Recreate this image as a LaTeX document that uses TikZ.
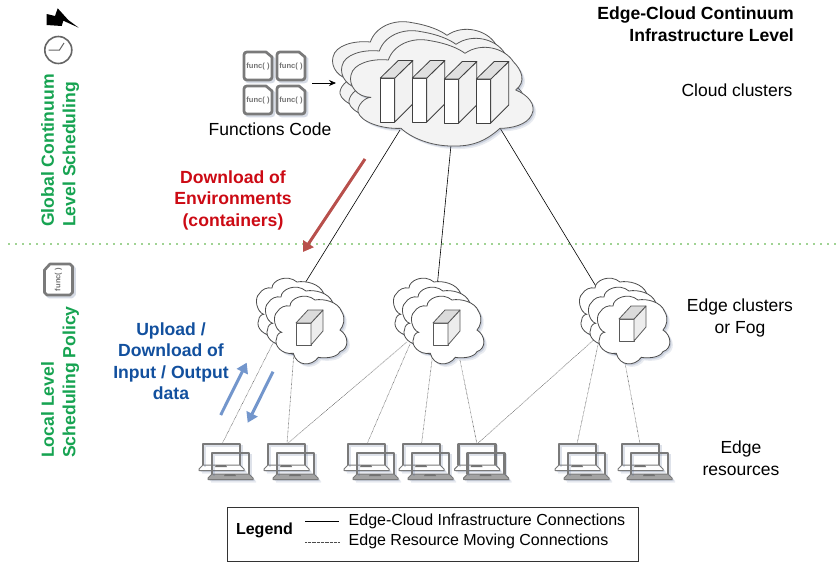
\documentclass[tikz,border=0pt]{standalone}
\usepackage{fontspec}
\setmainfont{Liberation Sans}
\usetikzlibrary{arrows.meta}
\definecolor{shc}{HTML}{5A6E96}
\definecolor{cloudgray}{HTML}{F3F3F3}
\definecolor{iconline}{HTML}{7A7A7A}
\definecolor{greentxt}{HTML}{16A351}
\definecolor{redtxt}{HTML}{CC0A14}
\definecolor{bluetxt}{HTML}{12509E}
\definecolor{redarrow}{HTML}{B8504C}
\definecolor{bluearrow}{HTML}{7396CC}
\definecolor{dotgreen}{HTML}{A0D394}
\newcommand{\bigcloudpath}{(138,262)
 .. controls (95,262) and (70,225) .. (78,195)
 .. controls (85,160) and (140,145) .. (190,150)
 .. controls (205,105) and (260,80) .. (315,92)
 .. controls (365,100) and (400,115) .. (420,130)
 .. controls (470,95) and (540,115) .. (565,155)
 .. controls (590,180) and (605,215) .. (572,240)
 .. controls (610,255) and (635,285) .. (620,315)
 .. controls (605,345) and (560,355) .. (525,355)
 .. controls (480,395) and (440,410) .. (380,408)
 .. controls (320,408) and (260,385) .. (228,355)
 .. controls (170,358) and (105,335) .. (99,305)
 .. controls (97,285) and (120,262) .. (138,262) -- cycle}
\newcommand{\smallcloudpath}{(125,187)
 .. controls (105,180) and (95,140) .. (112,125)
 .. controls (120,112) and (135,105) .. (150,108)
 .. controls (150,85) and (195,65) .. (225,90)
 .. controls (250,85) and (295,95) .. (305,125)
 .. controls (318,145) and (310,170) .. (300,180)
 .. controls (325,195) and (330,235) .. (300,245)
 .. controls (290,265) and (250,265) .. (235,262)
 .. controls (215,290) and (170,290) .. (160,250)
 .. controls (125,255) and (100,225) .. (110,205)
 .. controls (110,195) and (118,187) .. (125,187) -- cycle}
\newcommand{\docpath}{(3,0) -- (22,0) -- (28,5) -- (28,25)
   .. controls (28,27) and (27,28) .. (25,28) -- (3,28)
   .. controls (1,28) and (0,27) .. (0,25) -- (0,3)
   .. controls (0,1) and (1,0) .. (3,0) -- cycle}
\newcommand{\lapbase}{(0,21) -- (37,21) -- (41,25) -- (41,26.5) -- (-4,26.5) -- (-4,25) -- cycle}
\newcommand{\lapscreen}{(0,21) -- (0,0) -- (37,0) -- (37,21)}
\tikzset{
 softfill/.style={preaction={fill=shc,fill opacity=.14,draw=none,transform canvas={shift={(3pt,-3pt)}}},
                  preaction={fill=shc,fill opacity=.22,draw=none,transform canvas={shift={(1.6pt,-1.6pt)}}}},
 cloudline/.style={draw=black!65,line width=.8pt,line join=round},
 blockface/.style={draw=black!75,line width=.8pt,line join=round},
 solidlink/.style={draw=black,line width=.6pt},
 dotlink/.style={draw=black!70,line width=.6pt,dash pattern=on .5pt off .8pt},
 bigarrow/.style={line width=3pt,-{Triangle[length=10pt,width=12pt]}},
 boldlabel/.style={font=\fontsize{17.6}{21.5}\selectfont\bfseries,align=center,inner sep=0pt},
 plainlabel/.style={font=\fontsize{17.5}{21.5}\selectfont,align=center,inner sep=0pt},
 funcdoc/.pic={
   \path[draw=shc,draw opacity=.25,line width=2.6pt,shift={(2,2)}] \docpath;
   \path[fill=white,draw=iconline,line width=2.7pt,line join=round] \docpath;
   \node[text=black!55,inner sep=0pt,font=\fontsize{7.6}{8}\selectfont\bfseries] at (14,14.5) {func( )};
 },
 backlaptop/.pic={
   \path[softfill,fill=white,draw=iconline,line width=1pt,line join=round] \lapbase;
   \fill[black!55] (13,21) -- (23,21) -- (24,23) -- (12,23) -- cycle;
   \path[draw=shc,draw opacity=.2,line width=2pt,shift={(1.5,1.5)}] \lapscreen;
   \path[draw=iconline,line width=2.4pt,line join=round] \lapscreen;
 },
 frontlaptop/.pic={
   \path[softfill,fill=black!36,draw=iconline,line width=1pt,line join=round] \lapbase;
   \fill[black!55] (13,21) -- (23,21) -- (24,23) -- (12,23) -- cycle;
   \path[draw=shc,draw opacity=.2,line width=2pt,shift={(1.5,1.5)}] \lapscreen;
   \path[draw=iconline,line width=2.4pt,line join=round] \lapscreen;
 },
 smallcube/.pic={
   \draw[blockface,draw=black!65,fill=white] (0,13) rectangle (15,35);
   \draw[blockface,draw=black!65,fill=black!7] (15,13) -- (27,0) -- (27,21) -- (15,35) -- cycle;
   \draw[blockface,draw=black!65,fill=black!14] (0,13) -- (12,0) -- (27,0) -- (15,13) -- cycle;
 },
 bigblock/.pic={
   \draw[blockface,fill=white] (0,0) rectangle (14.5,44);
   \draw[blockface,fill=black!5] (14.5,0) -- (32.5,-17.5) -- (32.5,26) -- (14.5,44) -- cycle;
   \draw[blockface,fill=black!12] (0,0) -- (18,-17.5) -- (32.5,-17.5) -- (14.5,0) -- cycle;
 },
 smallcloud/.pic={
   \path[softfill,draw=black!70,line width=.8pt,fill=white,shift={(-18,-18)},scale=.3333] \smallcloudpath;
   \path[softfill,draw=black!70,line width=.8pt,fill=white,shift={(-9,-9)},scale=.3333] \smallcloudpath;
   \path[softfill,draw=black!70,line width=.8pt,fill=white,scale=.3333] \smallcloudpath;
 },
}
\begin{document}
\begin{tikzpicture}[x=1pt,y=-1pt]
\useasboundingbox (0,0) rectangle (836,562);
% named attachment points
\coordinate (bigA) at (400,130);
\coordinate (bigB) at (451,145);
\coordinate (bigC) at (500,128);
\coordinate (c1top) at (302,288);
\coordinate (c2top) at (437,288);
\coordinate (c3top) at (597,288);
\coordinate (c1a) at (273,343);
\coordinate (c1b) at (294,352);
\coordinate (c2a) at (407,342);
\coordinate (c2b) at (410,344);
\coordinate (c2c) at (433,352);
\coordinate (c2d) at (460,360);
\coordinate (c3a) at (598,336);
\coordinate (c3b) at (599,340);
\coordinate (c3c) at (623,352);
\coordinate (lap1) at (222,444);
\coordinate (lap2) at (287,444);
\coordinate (lap3) at (367,444);
\coordinate (lap4) at (421.5,444);
\coordinate (lap5) at (477,444);
\coordinate (lap6) at (577,444);
\coordinate (lap7) at (640,444);
\coordinate (sepL) at (8,244);
\coordinate (sepR) at (836,244);
% separator
\draw[dotgreen,line width=1.8pt,dash pattern=on 1.8pt off 5.2pt] (sepL) -- (sepR);
% connectors
\draw[solidlink] (bigA) -- (c1top);
\draw[solidlink] (bigB) -- (c2top);
\draw[solidlink] (bigC) -- (c3top);
\foreach \a/\b in {c1a/lap1,c1b/lap2,c2a/lap2,c2b/lap3,c2c/lap4,c2d/lap5,c3a/lap5,c3b/lap6,c3c/lap7}
  \draw[dotlink] (\a) -- (\b);
% big cloud
\path[softfill,cloudline,fill=cloudgray,shift={(307,-8)},scale=.3333] \bigcloudpath;
\path[softfill,cloudline,fill=cloudgray,shift={(316,1)},scale=.3333] \bigcloudpath;
\path[softfill,cloudline,fill=cloudgray,shift={(325,10)},scale=.3333] \bigcloudpath;
\pic at (380.3,78) {bigblock};
\pic at (412.3,78) {bigblock};
\pic at (444.3,79) {bigblock};
\pic at (476.3,79) {bigblock};
% small clouds
\pic at (240,270) {smallcloud};
\pic at (377,270) {smallcloud};
\pic at (563,270) {smallcloud};
\pic at (296,310) {smallcube};
\pic at (433,310) {smallcube};
\pic at (619,306) {smallcube};
% laptops
\foreach \x in {203,268,348,403,458.6,559,622}{
  \pic at (\x,444) {backlaptop};
  \pic at (\x+9,453) {frontlaptop};
}
% function code
\pic at (244,52) {funcdoc};
\pic at (277,52) {funcdoc};
\pic at (244,86) {funcdoc};
\pic at (277,86) {funcdoc};
\coordinate (funcR) at (312,83);
\coordinate (funcC) at (336,83);
\draw[black,line width=.8pt,-{Stealth[length=7pt,width=6pt]}] (funcR) -- (funcC);
\node[plainlabel] (funcs) at (270,129) {Functions Code};
% title and tier labels
\node[boldlabel,anchor=east,align=right] (title) at (794,24) {Edge-Cloud Continuum\\Infrastructure Level};
\node[plainlabel] (cloudc) at (737,90) {Cloud clusters};
\node[plainlabel] (edgec) at (740,318) {Edge clusters\\or Fog};
\node[plainlabel] (edger) at (741,458) {Edge\\resources};
% left policy labels
\node[boldlabel,text=greentxt,rotate=90,anchor=west,align=left] (glob) at (60,227) {Global Continuum\\Level Scheduling};
\node[boldlabel,text=greentxt,rotate=90,anchor=west,align=left] (loc) at (60,458) {Local Level\\Scheduling Policy};
% red
\node[boldlabel,text=redtxt] (dl) at (233,200) {Download of\\Environments\\(containers)};
\coordinate (redS) at (365,159);
\coordinate (redE) at (303,252);
\draw[bigarrow,redarrow] (redS) -- (redE);
% blue
\node[boldlabel,text=bluetxt] (ul) at (171,361) {Upload /\\Download of\\Input / Output\\data};
\coordinate (upS) at (220.7,415);
\coordinate (upE) at (246.7,362.7);
\coordinate (dnS) at (273,371.7);
\coordinate (dnE) at (247.7,422.7);
\draw[bigarrow,bluearrow] (upS) -- (upE);
\draw[bigarrow,bluearrow] (dnS) -- (dnE);
% clock
\node[circle,draw=black!60,line width=1.6pt,fill=white,minimum size=27pt,inner sep=0pt] (clock) at (58.3,50) {};
\coordinate (hand1) at (48.5,50);
\coordinate (hand2) at (59.5,50);
\coordinate (hand3) at (64,43);
\draw[black!60,line width=1pt] (hand1) -- (hand2) -- (hand3);
% lightning
\fill[black] (46.7,14) -- (55,16) -- (57.7,8.3) -- (68.3,20) -- (78.7,27.7) -- (63.3,20.7) -- (61.7,26) -- (46.7,25) -- cycle;
% rotated function icon
\path[draw=shc,draw opacity=.25,line width=2.6pt,shift={(2,2)},line join=round]
  (50,264) -- (70,264) -- (72.5,266.5) -- (72.5,292.5) -- (70,295) -- (47,295) -- (44.5,292.5) -- (44.5,270) -- cycle;
\path[fill=white,draw=iconline,line width=2.7pt,line join=round]
  (50,264) -- (70,264) -- (72.5,266.5) -- (72.5,292.5) -- (70,295) -- (47,295) -- (44.5,292.5) -- (44.5,270) -- cycle;
\node[text=black!55,inner sep=0pt,rotate=90,font=\fontsize{7.6}{8}\selectfont\bfseries] (funcrot) at (58.5,279.5) {func( )};
% legend
\node[draw=black!80,fill=white,line width=.9pt,minimum width=411pt,minimum height=54pt,inner sep=0pt] (legend) at (432.5,534) {};
\node[font=\fontsize{16}{18}\selectfont\bfseries,inner sep=0pt] (legt) at (264.5,530) {Legend};
\coordinate (l1a) at (305,521);
\coordinate (l1b) at (339,521);
\coordinate (l2a) at (305,542);
\coordinate (l2b) at (339,542);
\draw[solidlink] (l1a) -- (l1b);
\draw[dotlink] (l2a) -- (l2b);
\node[font=\fontsize{16}{18}\selectfont,anchor=west,inner sep=0pt] (leg1) at (348.5,521.5) {Edge-Cloud Infrastructure Connections};
\node[font=\fontsize{16}{18}\selectfont,anchor=west,inner sep=0pt] (leg2) at (348.5,541.5) {Edge Resource Moving Connections};
\end{tikzpicture}
\end{document}
